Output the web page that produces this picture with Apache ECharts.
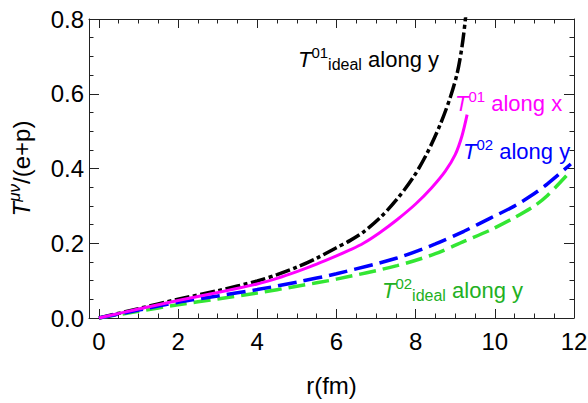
<!DOCTYPE html>
<html><head><meta charset="utf-8">
<script src="https://cdn.jsdelivr.net/npm/echarts@6/dist/echarts.min.js"></script>
<style>html,body{margin:0;padding:0;background:#fff}#c{width:588px;height:403px}</style>
</head><body><div id="c"></div>
<script>
// ---- data ----
const xTickLabels = [0, 2, 4, 6, 8, 10, 12];
const yTickLabels = [0.0, 0.2, 0.4, 0.6, 0.8];

// T^01_ideal along y (black dash-dot)
const rIdeal01 = [0, 1, 2, 3, 4, 4.5, 5, 5.5, 6, 6.34, 6.68, 7.1, 7.53, 7.95, 8.29, 8.63, 8.88, 9.05, 9.17, 9.26, 9.34];
const vIdeal01 = [0, 0.025, 0.050, 0.073, 0.099, 0.116, 0.136, 0.160, 0.188, 0.207, 0.230, 0.268, 0.318, 0.378, 0.441, 0.520, 0.592, 0.655, 0.725, 0.803, 0.90];
// T^01 along x (magenta solid)
const rT01x = [0, 1, 2, 3, 4, 4.5, 5, 5.5, 6, 6.34, 6.68, 7.1, 7.53, 8.0, 8.4, 8.75, 9.0, 9.17, 9.3];
const vT01x = [0, 0.024, 0.047, 0.068, 0.091, 0.106, 0.124, 0.144, 0.166, 0.182, 0.200, 0.229, 0.263, 0.305, 0.348, 0.393, 0.437, 0.487, 0.544];
// T^02 along y (blue dashed)
const rT02y = [0, 1, 2, 3, 4, 5, 6, 7.53, 8.5, 9.22, 9.9, 10.48, 11.0, 11.33, 11.92];
const vT02y = [0, 0.021, 0.042, 0.059, 0.076, 0.096, 0.1185, 0.1605, 0.198, 0.232, 0.268, 0.2987, 0.333, 0.359, 0.412];
// T^02_ideal along y (green dashed)
const rIdeal02 = [0, 1, 2, 3, 4, 5, 6, 7.53, 8.5, 9.22, 9.9, 10.48, 11.0, 11.33, 11.83];
const vIdeal02 = [0, 0.018, 0.0356, 0.051, 0.067, 0.085, 0.104, 0.14, 0.172, 0.205, 0.236, 0.2676, 0.300, 0.328, 0.383];

// ---- chart ----
const FONT = '"Liberation Sans", Arial, sans-serif';
const FRAME = '#222';
const pairs = (r, v) => r.map((x, i) => [x, v[i]]);
const chart = echarts.init(document.getElementById('c'), null, {renderer: 'svg'});

const xLabelFmt = v => { const r = Math.round(v); return (Math.abs(v - r) < 1e-6 && xTickLabels.indexOf(r) >= 0) ? String(r) : ''; };
const yLabelFmt = v => { const h = yTickLabels.find(t => Math.abs(t - v) < 1e-6); return h === undefined ? '' : h.toFixed(1); };

function xAx(pos, withLabels) {
  const a = {
    type: 'value', min: -0.25, max: 12, splitNumber: 6, position: pos,
    axisLine: {show: true, onZero: false, lineStyle: {color: FRAME, width: 1}},
    axisTick: {show: true, inside: true, length: 9, lineStyle: {color: FRAME, width: 1}},
    minorTick: {show: true, splitNumber: 4, length: 4.5, lineStyle: {color: FRAME, width: 1}},
    splitLine: {show: false},
    axisLabel: {show: withLabels, margin: 11, fontSize: 24, color: '#000', fontFamily: FONT, formatter: xLabelFmt}
  };
  if (withLabels) {
    a.name = 'r(fm)'; a.nameLocation = 'middle'; a.nameGap = 55;
    a.nameTextStyle = {fontSize: 24, color: '#000', fontFamily: FONT};
  }
  return a;
}
function yAx(pos, withLabels) {
  const a = {
    type: 'value', min: 0, max: 0.8, interval: 0.2, position: pos,
    axisLine: {show: true, onZero: false, lineStyle: {color: FRAME, width: 1}},
    axisTick: {show: true, inside: true, length: 10, lineStyle: {color: FRAME, width: 1}},
    minorTick: {show: true, splitNumber: 4, length: 4.5, lineStyle: {color: FRAME, width: 1}},
    splitLine: {show: false},
    axisLabel: {show: withLabels, margin: 5, fontSize: 24, color: '#000', fontFamily: FONT, formatter: yLabelFmt}
  };
  if (withLabels) {
    a.name = '{it|T}{supi|μν}{n|/(e+p)}'; a.nameLocation = 'middle'; a.nameGap = 52; a.nameRotate = 90;
    a.nameTextStyle = {fontSize: 24, color: '#000', fontFamily: FONT, rich: {
      it: {fontStyle: 'italic', fontSize: 24, fontFamily: FONT},
      supi: {fontStyle: 'italic', fontSize: 17, fontFamily: FONT, padding: [0, 0, 14, 0]},
      n: {fontSize: 24, fontFamily: FONT}}};
  }
  return a;
}

const richMain = (size) => ({
  it: {fontStyle: 'italic', fontSize: size, fontFamily: FONT},
  sup: {fontSize: Math.round(size * 0.7), fontFamily: FONT, padding: [0, 0, 14, 0]},
  sub: {fontSize: Math.round(size * 0.72), fontFamily: FONT, padding: [10, 0, 0, 0]},
  n: {fontSize: size, fontFamily: FONT}
});
function annot(x, y, text, color) {
  return {type: 'text', x: x, y: y, z: 100,
    style: {text: text, fill: color, font: '22px ' + FONT, verticalAlign: 'middle', align: 'left', rich: richMain(22)}};
}
function lineSeries(name, r, v, color, width, type, z) {
  return {type: 'line', name: name, data: pairs(r, v), symbol: 'none', showSymbol: false, smooth: 0.3, clip: true, z: z,
    lineStyle: {color: color, width: width, type: type, cap: 'butt'}};
}

const option = {
  animation: false,
  grid: {left: 89, right: 14, top: 19, bottom: 85, outerBoundsMode: 'none'},
  xAxis: [xAx('bottom', true), xAx('top', false)],
  yAxis: [yAx('left', true), yAx('right', false)],
  series: [
    lineSeries('T01 ideal along y', rIdeal01, vIdeal01, '#000', 3.5, [15, 3.5, 4, 3.5], 2),
    lineSeries('T02 ideal along y', rIdeal02, vIdeal02, '#33e633', 3.5, [17, 7], 3),
    lineSeries('T02 along y', rT02y, vT02y, '#0000ff', 3.5, [19, 7], 4),
    lineSeries('T01 along x', rT01x, vT01x, '#ff00ff', 3, 'solid', 5)
  ],
  graphic: [
    annot(298, 59, '{it|T}{sup|01}{sub|ideal}{n| along y}', '#000'),
    annot(455, 103, '{it|T}{sup|01}{n| along x}', '#ff00ff'),
    annot(463, 151, '{it|T}{sup|02}{n| along y}', '#0000ff'),
    annot(382, 290, '{it|T}{sup|02}{sub|ideal}{n| along y}', '#22b022')
  ]
};
chart.setOption(option);
</script>
</body></html>
